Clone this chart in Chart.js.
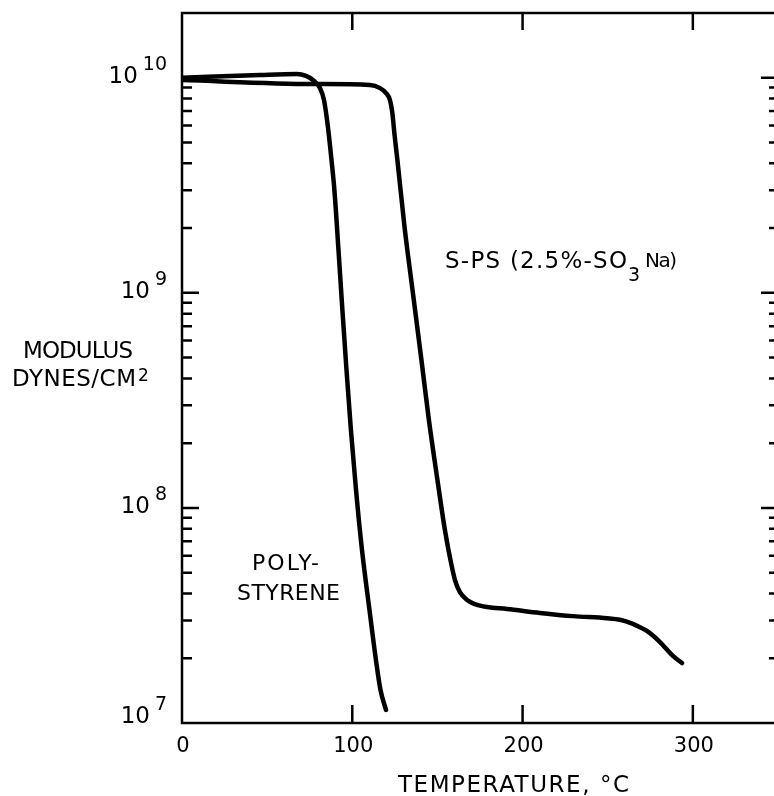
<!DOCTYPE html>
<html>
<head>
<meta charset="utf-8">
<script src="https://cdn.jsdelivr.net/npm/chart.js@4/dist/chart.umd.min.js"></script>
<style>
  html, body { margin: 0; padding: 0; background: #fff; overflow: hidden; }
  #wrap { width: 774px; height: 796px; overflow: hidden; }
</style>
</head>
<body>
<div id="wrap"><canvas id="modChart" width="800" height="796"></canvas></div>
<script>
// polystyrene
var ps_temp = [0, 45.8, 67.5, 72.8, 76.9, 81.0, 83.4, 85.7, 87.8, 89.5, 91.9, 94.2, 96.6, 99.2, 102.2,
  105.7, 110.1, 113.9, 116.6, 119.8];
var ps_mod = [1.0e10, 1.03e10, 1.04e10, 1.02e10, 9.76e9, 8.95e9, 7.87e9, 5.9e9, 4.14e9, 3.0e9, 1.58e9,
  8.3e8, 4.38e8, 2.3e8, 1.21e8, 6.37e7, 3.35e7, 1.96e7, 1.42e7, 1.15e7];

// sulfonated polystyrene
var sps_temp = [0, 76.9, 110.4, 116.3, 119.8, 122.1, 123.6, 124.8, 126.5, 130.7, 135.6, 140.6, 145.0,
  150.0, 154.4, 158.0, 160.3, 163.2, 167.4, 172.0, 179.1, 190.8, 210.2, 229.6, 249.6, 257.2, 264.8,
  268.9, 273.0, 280.7, 288.3, 293.6];
var sps_mod = [9.75e9, 9.35e9, 9.25e9, 8.95e9, 8.49e9, 7.88e9, 6.78e9, 5.44e9, 4.14e9, 2.02e9, 9.98e8,
  4.88e8, 2.56e8, 1.35e8, 7.89e7, 5.55e7, 4.62e7, 4.06e7, 3.73e7, 3.57e7, 3.46e7, 3.39e7, 3.25e7,
  3.14e7, 3.07e7, 3.02e7, 2.89e7, 2.79e7, 2.68e7, 2.38e7, 2.05e7, 1.9e7];

var x_ticks = [0, 100, 200, 300];
var y_exps = [7, 8, 9, 10];
var y_minor = [2, 3, 4, 5, 6, 7, 8, 9];

function to_points(xs, ys) {
  var pts = [];
  for (var i = 0; i < xs.length; i++) pts.push({ x: xs[i], y: ys[i] });
  return pts;
}

// draw text stretched/squeezed by letter spacing to span left..right
function fit_text(ctx, str, left, right, base, size) {
  ctx.font = size + 'px "DejaVu Sans"';
  ctx.letterSpacing = "0px";
  var w = ctx.measureText(str).width;
  var n = str.length - 1;
  var sp = n > 0 ? (right - left - w) / n : 0;
  ctx.letterSpacing = sp + "px";
  ctx.textAlign = "left";
  ctx.fillText(str, left, base);
  ctx.letterSpacing = "0px";
}

var frame_plugin = {
  id: "frame",
  afterDraw: function (chart) {
    var ctx = chart.ctx;
    var a = chart.chartArea;
    var xs = chart.scales.x;
    var ys = chart.scales.y;
    ctx.save();
    ctx.strokeStyle = "#000";
    ctx.fillStyle = "#000";
    ctx.lineWidth = 2.5;
    ctx.lineCap = "butt";
    ctx.strokeRect(a.left, a.top, a.right - a.left, a.bottom - a.top);

    // x ticks, inward on bottom and top
    ctx.beginPath();
    x_ticks.forEach(function (t) {
      if (t === 0) return;
      var px = xs.getPixelForValue(t);
      ctx.moveTo(px, a.bottom);
      ctx.lineTo(px, a.bottom - 18);
      ctx.moveTo(px, a.top);
      ctx.lineTo(px, a.top + 17);
    });
    // y ticks, inward on left and right
    y_exps.forEach(function (e) {
      var py = ys.getPixelForValue(Math.pow(10, e));
      if (e > 7) {
        ctx.moveTo(a.left, py);
        ctx.lineTo(a.left + 17, py);
        ctx.moveTo(a.right, py);
        ctx.lineTo(a.right - 17, py);
      }
      y_minor.forEach(function (m) {
        var v = m * Math.pow(10, e);
        if (v >= ys.max) return;
        var p = ys.getPixelForValue(v);
        ctx.moveTo(a.left, p);
        ctx.lineTo(a.left + 10, p);
        ctx.moveTo(a.right, p);
        ctx.lineTo(a.right - 9, p);
      });
    });
    ctx.stroke();

    // x tick labels
    ctx.font = '21px "DejaVu Sans"';
    ctx.textAlign = "center";
    ctx.textBaseline = "alphabetic";
    x_ticks.forEach(function (t) {
      ctx.fillText(String(t), xs.getPixelForValue(t) + 1, a.bottom + 29);
    });

    // y tick labels 10^n
    y_exps.forEach(function (e) {
      var py = ys.getPixelForValue(Math.pow(10, e));
      var lift = e === 7 ? 5 : 0;
      ctx.textAlign = "right";
      ctx.font = '19px "DejaVu Sans"';
      var sup = String(e);
      ctx.fillText(sup, 167, py - 8 - lift);
      var sw = ctx.measureText(sup).width;
      ctx.font = '23px "DejaVu Sans"';
      ctx.fillText("10", 167 - sw - 5, py + 5 - lift);
    });

    // axis titles
    fit_text(ctx, "TEMPERATURE, °C", 398, 629, 792, 23);
    fit_text(ctx, "MODULUS", 23, 133, 358, 23);
    fit_text(ctx, "DYNES/CM", 12, 136, 386, 23);
    ctx.font = '17px "DejaVu Sans"';
    ctx.textAlign = "left";
    ctx.fillText("2", 138, 381);

    // curve labels
    fit_text(ctx, "S-PS (2.5%-SO", 445, 627, 268, 23);
    ctx.font = '19px "DejaVu Sans"';
    ctx.textAlign = "left";
    ctx.fillText("3", 628, 281);
    fit_text(ctx, "Na)", 645, 677, 267, 20);
    fit_text(ctx, "POLY-", 252, 319, 570, 22);
    fit_text(ctx, "STYRENE", 237, 340, 600, 22);
    ctx.restore();
  },
};

var modChart = null;

function init_chart() {
  var ctx = document.getElementById("modChart").getContext("2d");
  modChart = new Chart(ctx, {
    type: "line",
    data: {
      datasets: [
        {
          label: "POLYSTYRENE",
          data: to_points(ps_temp, ps_mod),
          borderColor: "#000",
          borderWidth: 4.5,
          pointRadius: 0,
          cubicInterpolationMode: "monotone",
          borderCapStyle: "round",
          borderJoinStyle: "round",
          fill: false,
        },
        {
          label: "S-PS (2.5%-SO3Na)",
          data: to_points(sps_temp, sps_mod),
          borderColor: "#000",
          borderWidth: 4.5,
          pointRadius: 0,
          cubicInterpolationMode: "monotone",
          borderCapStyle: "round",
          borderJoinStyle: "round",
          fill: false,
        },
      ],
    },
    options: {
      responsive: false,
      animation: false,
      layout: { padding: { left: 182, top: 13, right: 22, bottom: 73 } },
      plugins: { legend: { display: false }, tooltip: { enabled: false } },
      scales: {
        x: { type: "linear", min: 0, max: 350, display: false },
        y: { type: "logarithmic", min: 1e7, max: 2e10, display: false },
      },
    },
    plugins: [frame_plugin],
  });
}

window.addEventListener("DOMContentLoaded", init_chart);
</script>
</body>
</html>
